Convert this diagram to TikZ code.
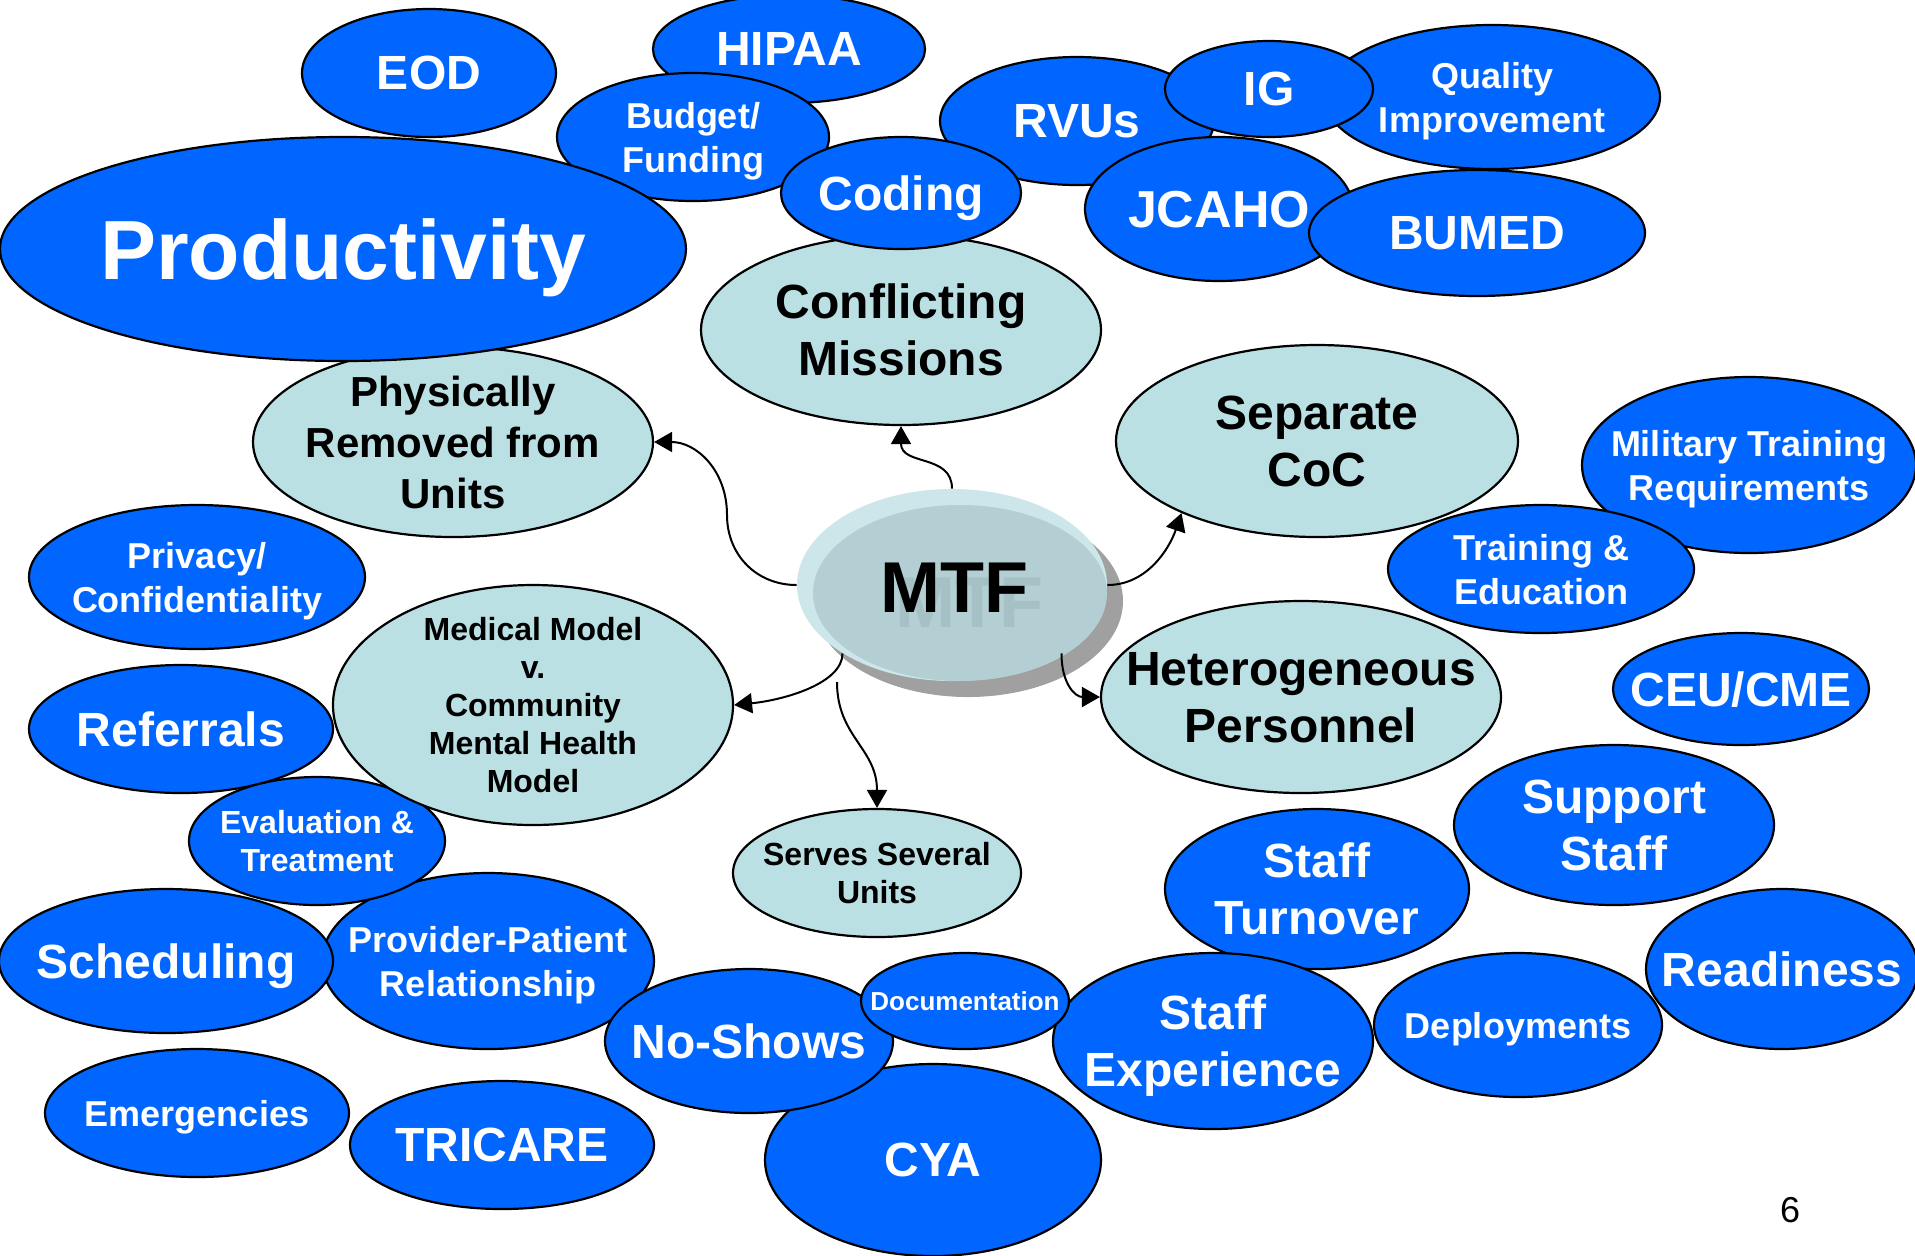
\documentclass[tikz,border=0pt]{standalone}
\usepackage{fontspec}
\setmainfont{Liberation Sans}
\usetikzlibrary{shapes.geometric,arrows.meta}
\definecolor{nodeblue}{HTML}{0066FF}
\definecolor{lightteal}{HTML}{BBE0E3}
\definecolor{mtftopc}{HTML}{CCE6EA}
\definecolor{mtfinc}{HTML}{B4CFD3}
\definecolor{mtfshadec}{HTML}{A0A0A0}
\definecolor{ghostc}{HTML}{A6C1C5}
\tikzset{
  ell/.style={ellipse, draw=black, line width=1.1pt, inner sep=-400pt, align=center, text depth=-3pt},
  sz/.style 2 args={minimum width=#1pt, minimum height=#2pt},
  bnode/.style={ell, fill=nodeblue, text=white},
  lnode/.style={ell, fill=lightteal, text=black},
  fXL/.style={font=\bfseries\fontsize{42}{48}\selectfont},
  fMTF/.style={font=\bfseries\fontsize{36}{40}\selectfont},
  fJ/.style={font=\bfseries\fontsize{26}{31}\selectfont},
  fL/.style={font=\bfseries\fontsize{24}{28.5}\selectfont},
  fP/.style={font=\bfseries\fontsize{21}{25.5}\selectfont},
  fM/.style={font=\bfseries\fontsize{18}{22}\selectfont},
  fS/.style={font=\bfseries\fontsize{16}{19}\selectfont},
  fT/.style={font=\bfseries\fontsize{13}{15}\selectfont},
  plainell/.style={ellipse, inner sep=0pt},
  conn/.style={line width=1pt, -{Triangle[length=9pt,width=10pt]}},
}
\begin{document}
\begin{tikzpicture}[x=0.5pt, y=-0.5pt]
\useasboundingbox (0,0) rectangle (1915,1255);
\fill[white] (0,0) rectangle (1915,1255);

% top-left cluster
\node[bnode, fL, sz={136}{54}] (hipaa) at (789,49) {HIPAA};
\node[bnode, fM, sz={136}{64}] (budget) at (693,137) {Budget/\\Funding};
\node[bnode, fL, sz={127}{64}] (eod) at (429,73) {EOD};
\node[lnode, fP, sz={200}{95}] (phys) at (453,442) {Physically\\Removed from\\Units};
\node[bnode, fXL, sz={343}{112}] (prod) at (343,249) {Productivity};

% top-right cluster
\node[bnode, fL, sz={137}{64}] (rvus) at (1077,121) {RVUs};
\node[bnode, fM, sz={168}{72}] (quality) at (1492,97) {Quality\\Improvement};
\node[bnode, fL, sz={104}{48}] (ig) at (1269,89) {IG};
\node[bnode, fJ, sz={134}{72}] (jcaho) at (1219,209) {JCAHO};
\node[bnode, fL, sz={168}{63}] (bumed) at (1477,233) {BUMED};
\node[lnode, fL, sz={200}{95}] (conf) at (901,330) {Conflicting\\Missions};
\node[bnode, fL, sz={120}{56}] (coding) at (901,193) {Coding};

% right side
\node[lnode, fL, sz={201}{96}] (sep) at (1317,441) {Separate\\CoC};
\node[bnode, fM, sz={167}{88}] (mil) at (1749,465) {Military Training\\Requirements};
\node[bnode, fM, sz={153}{64}] (train) at (1541,569) {Training \&\\Education};
\node[bnode, fL, sz={128}{56}] (ceu) at (1741,689) {CEU/CME};

% left side
\node[bnode, fM, sz={168}{72}] (priv) at (197,577) {Privacy/\\Confidentiality};
\node[bnode, fL, sz={152}{64}] (ref) at (181,729) {Referrals};
\node[bnode, fM, sz={166}{88}] (prov) at (488,961) {Provider-Patient\\Relationship};
\node[bnode, fL, sz={167}{72}] (sched) at (166,961) {Scheduling};
\node[bnode, fS, sz={128}{64}] (eval) at (317,841) {Evaluation \&\\Treatment};
\node[lnode, fS, sz={200}{120}] (med) at (533,705) {Medical Model\\v.\\Community\\Mental Health\\Model};
\node[bnode, fM, sz={152}{64}] (emerg) at (197,1113) {Emergencies};
\node[bnode, fL, sz={152}{64}] (tricare) at (502,1145) {TRICARE};

% bottom
\node[bnode, fL, sz={168}{96}] (cya) at (933,1160) {CYA};
\node[bnode, fL, sz={144}{72}] (noshows) at (749,1041) {No-Shows};
\node[bnode, fL, sz={152}{80}] (turn) at (1317,889) {Staff\\Turnover};
\node[bnode, fL, sz={160}{88}] (exp) at (1213,1041) {Staff\\Experience};
\node[bnode, fT, sz={104}{48}] (doc) at (965,1001) {Documentation};
\node[bnode, fL, sz={160}{80}] (supp) at (1614,825) {Support\\Staff};
\node[bnode, fM, sz={144}{72}] (deploy) at (1518,1025) {Deployments};
\node[bnode, fL, sz={136}{80}] (ready) at (1782,969) {Readiness};
\node[lnode, fS, sz={144}{64}] (serves) at (877,873) {Serves Several\\Units};

% MTF
\node[plainell, fill=mtfshadec, sz={155}{96}] (mtfshadow) at (968,601) {};
\node[plainell, fill=mtftopc, sz={155}{96}] (mtf) at (952,585) {};
\node[plainell, fill=mtfinc, sz={147}{88}] (mtfinner) at (960,593) {};
\node[fMTF, text=ghostc] (mtfghost) at (969,603) {MTF};
\node[fMTF, text=black] (mtflabel) at (954,588) {MTF};

\node[lnode, fL, sz={200}{96}] (het) at (1301,697) {Heterogeneous\\Personnel};

% connectors
\coordinate (w1) at (727,515);
\coordinate (srvstart) at (837,682);
\draw[conn] (mtf.west) .. controls +(-40,0) and +(0,40) .. (w1)
            .. controls +(0,-45) and +(42,0) .. (phys.east);
\draw[conn] (mtf.north) .. controls +(0,-35) and +(0,40) .. (conf.south);
\draw[conn] (mtf.east) .. controls +(40,0) and +(-12,35) .. (sep.208);
\draw[conn] (mtf.328) .. controls +(0,30) and +(-25,0) .. (het.west);
\draw[conn] (mtf.212) .. controls +(0,30) and +(50,-5) .. (med.east);
\draw[conn] (srvstart) .. controls +(0,55) and +(0,-60) .. (serves.north);

\node[font=\fontsize{18}{20}\selectfont] (pagenum) at (1790,1210) {6};
\end{tikzpicture}
\end{document}
